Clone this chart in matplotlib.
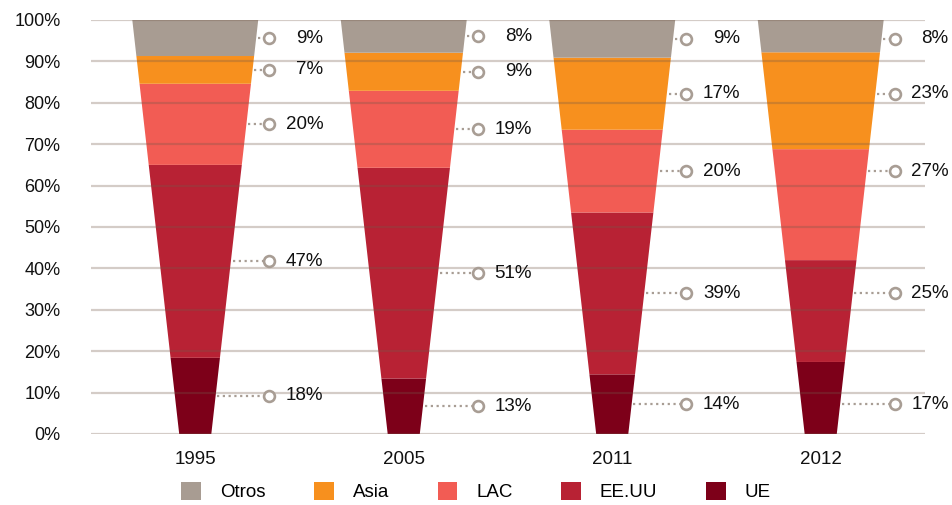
import numpy as np
import matplotlib.pyplot as plt

plt.rcParams['font.family'] = ['Liberation Sans', 'DejaVu Sans']

years = ['1995', '2005', '2011', '2012']
ue = [18.4, 13.4, 14.4, 17.4]
eeuu = [46.6, 50.9, 39.1, 24.6]
lac = [19.6, 18.6, 20.0, 26.8]
asia = [6.7, 9.2, 17.4, 23.4]
otros = [8.7, 7.9, 9.1, 7.8]
# in the source chart the 2012 labels sit at the 2011 heights
label_from = [0, 1, 2, 2]

series = [('UE', ue, '#7d0019'),
          ('EE.UU', eeuu, '#b82234'),
          ('LAC', lac, '#f25c54'),
          ('Asia', asia, '#f7901e'),
          ('Otros', otros, '#a89c92')]

# funnel half width as a function of height (0..100)
def half(y):
    return 0.077 + 0.225 * y / 100

def mids(j):
    out = []
    base = 0
    for name, vals, col in series:
        out.append(base + vals[j] / 2)
        base += vals[j]
    return out

fig = plt.figure(figsize=(9.52, 5.05), dpi=100)
ax = fig.add_axes([0.0956, 0.1406, 0.876, 0.8198])

lab_col = '#a89d94'
handles = {}
for i in range(len(years)):
    base = 0
    ymids = mids(label_from[i])
    for k, (name, vals, col) in enumerate(series):
        v = vals[i]
        top = base + v
        xs = [i - half(base), i + half(base), i + half(top), i - half(top)]
        ys = [base, base, top, top]
        h = ax.fill(xs, ys, color=col, lw=0, zorder=1)[0]
        handles[name] = h
        base = top
        ym = ymids[k]
        xe = i + half(ym) + 0.008
        xc = i + 0.355
        ax.plot([xe, xc - 0.02], [ym, ym], color=lab_col, lw=1.6,
                linestyle=(0, (1, 1.6)), zorder=3, solid_capstyle='butt')
        ax.plot(xc, ym, 'o', ms=7.8, mfc='white', mec=lab_col, mew=1.9, zorder=4)
        ax.text(i + 0.614, ym, f"{round(v)}%", ha='right', va='center',
                fontsize=13.5, color='#111111', clip_on=False)

ax.set_xlim(-0.5, 3.5)
ax.set_ylim(0, 100)
ax.set_xticks(range(len(years)))
ax.set_xticklabels(years)
ax.set_yticks(np.arange(0, 101, 10))
ax.set_yticklabels([f"{t}%" for t in range(0, 101, 10)])
ax.tick_params(axis='both', length=0, colors='#111111')
ax.tick_params(axis='y', pad=22, labelsize=13)
ax.tick_params(axis='x', pad=12, labelsize=13.5)
for s in ax.spines.values():
    s.set_visible(False)
ax.set_axisbelow(False)
ax.yaxis.grid(True, color=(115/255, 88/255, 72/255), alpha=0.3, lw=1.6)

order = ['Otros', 'Asia', 'LAC', 'EE.UU', 'UE']
fig.legend([handles[n] for n in order], order, loc='center',
           bbox_to_anchor=(0.5, 0.026), ncol=5, frameon=False, fontsize=13.5,
           handlelength=1.05, handleheight=1.05, handletextpad=1.0,
           columnspacing=2.6)

fig.savefig('out.png', dpi=100)
